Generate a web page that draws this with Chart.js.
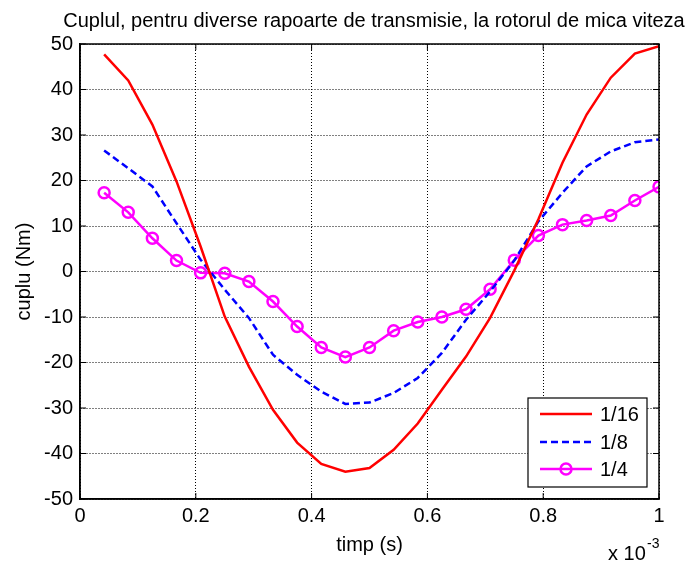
<!DOCTYPE html>
<html>
<head>
<meta charset="utf-8">
<script src="https://cdn.jsdelivr.net/npm/chart.js@4"></script>
<style>
  body { margin: 0; background: #fff; }
  #wrap { width: 692px; height: 564px; }
</style>
</head>
<body>
<div id="wrap"><canvas id="cuplu" width="692" height="564"></canvas></div>
<script>
// timp (x 10^-3 s)
const timp = [0.0417, 0.0833, 0.125, 0.1667, 0.2083, 0.25, 0.2917, 0.3333, 0.375, 0.4167, 0.4583, 0.5,
              0.5417, 0.5833, 0.625, 0.6667, 0.7083, 0.75, 0.7917, 0.8333, 0.875, 0.9167, 0.9583, 1.0];
const raport16 = [47.7, 42.0, 32.3, 19.8, 5.5, -9.9, -20.9, -30.4, -37.6, -42.3, -44.0, -43.2,
                  -39.2, -33.4, -26.0, -18.7, -10.2, 0.2, 11.5, 23.9, 34.5, 42.6, 47.9, 49.5];
const raport8 = [26.6, 22.7, 18.7, 10.6, 2.6, -4.0, -10.2, -18.3, -22.7, -26.4, -29.1, -28.8,
                 -26.7, -23.4, -17.9, -10.6, -4.4, 2.4, 11.0, 17.3, 23.1, 26.4, 28.4, 29.0];
const raport4 = [17.3, 13.0, 7.3, 2.4, -0.3, -0.4, -2.2, -6.6, -12.1, -16.7, -18.8, -16.7,
                 -13.0, -11.1, -10.0, -8.3, -3.9, 2.5, 7.9, 10.3, 11.2, 12.3, 15.6, 18.6];
const seriesNames = ['1/16', '1/8', '1/4'];

const FONT = 'Liberation Sans, Arial, sans-serif';

function pts(ys) {
  return ys.map((y, i) => ({ x: timp[i], y: y }));
}

const matlabBits = {
  id: 'matlabBits',
  afterDraw: (chart) => {
    const { ctx, chartArea: a, scales: { x, y } } = chart;
    ctx.save();
    // box
    ctx.strokeStyle = '#000';
    ctx.lineWidth = 1.5;
    ctx.strokeRect(a.left, a.top, a.right - a.left, a.bottom - a.top);
    // inner ticks
    ctx.lineWidth = 1;
    ctx.beginPath();
    y.ticks.forEach(t => {
      const py = y.getPixelForValue(t.value);
      ctx.moveTo(a.left, py); ctx.lineTo(a.left + 6, py);
      ctx.moveTo(a.right, py); ctx.lineTo(a.right - 6, py);
    });
    x.ticks.forEach(t => {
      const px = x.getPixelForValue(t.value);
      ctx.moveTo(px, a.bottom); ctx.lineTo(px, a.bottom - 6);
      ctx.moveTo(px, a.top); ctx.lineTo(px, a.top + 6);
    });
    ctx.stroke();

    // title
    ctx.fillStyle = '#000';
    ctx.font = '20px ' + FONT;
    ctx.textAlign = 'center';
    ctx.textBaseline = 'alphabetic';
    ctx.fillText('Cuplul, pentru diverse rapoarte de transmisie, la rotorul de mica viteza', 374, 27);

    // exponent
    ctx.textAlign = 'left';
    ctx.fillText('x 10', 608, 560);
    ctx.font = '14px ' + FONT;
    ctx.fillText('-3', 647, 548);

    // legend
    const lx = 528, ly = 398, lw = 119, lh = 89;
    ctx.fillStyle = '#fff';
    ctx.fillRect(lx, ly, lw, lh);
    ctx.strokeStyle = '#000';
    ctx.lineWidth = 1.2;
    ctx.strokeRect(lx, ly, lw, lh);
    const rows = [414, 442, 469];
    chart.data.datasets.forEach((ds, i) => {
      const ry = rows[i];
      ctx.strokeStyle = ds.borderColor;
      ctx.lineWidth = ds.borderWidth;
      ctx.setLineDash(ds.borderDash || []);
      ctx.beginPath();
      ctx.moveTo(540, ry); ctx.lineTo(592, ry);
      ctx.stroke();
      ctx.setLineDash([]);
      if (ds.pointRadius > 0) {
        ctx.beginPath();
        ctx.arc(566, ry, ds.pointRadius, 0, Math.PI * 2);
        ctx.stroke();
      }
      ctx.fillStyle = '#000';
      ctx.font = '20px ' + FONT;
      ctx.textBaseline = 'middle';
      ctx.fillText(ds.label, 600, ry + 1);
    });
    ctx.restore();
  }
};

new Chart(document.getElementById('cuplu'), {
  type: 'line',
  data: {
    datasets: [{
      label: seriesNames[0],
      data: pts(raport16),
      borderColor: '#ff0000',
      borderWidth: 2.5,
      pointRadius: 0,
      tension: 0
    }, {
      label: seriesNames[1],
      data: pts(raport8),
      borderColor: '#0000ff',
      borderWidth: 2.5,
      borderDash: [7, 4],
      pointRadius: 0,
      tension: 0
    }, {
      label: seriesNames[2],
      data: pts(raport4),
      borderColor: '#ff00ff',
      borderWidth: 2.5,
      pointRadius: 5.5,
      pointBorderWidth: 2.5,
      pointBorderColor: '#ff00ff',
      pointBackgroundColor: 'rgba(0,0,0,0)',
      tension: 0
    }]
  },
  plugins: [matlabBits],
  options: {
    responsive: false,
    animation: false,
    events: [],
    layout: {
      padding: { top: 44, right: 33, left: 0, bottom: 0 }
    },
    plugins: {
      legend: { display: false },
      tooltip: { enabled: false }
    },
    scales: {
      x: {
        type: 'linear',
        min: 0,
        max: 1,
        afterFit: (s) => { s.height = 65; },
        ticks: {
          stepSize: 0.2,
          color: '#000',
          padding: 5,
          maxRotation: 0,
          font: { family: FONT, size: 20 },
          callback: (v) => String(+v.toFixed(1))
        },
        grid: { color: '#000', lineWidth: 1, drawTicks: false },
        border: { color: '#000', width: 1.5, dash: [1, 2] },
        title: {
          display: true,
          text: 'timp (s)',
          color: '#000',
          padding: 7,
          font: { family: FONT, size: 20 }
        }
      },
      y: {
        min: -50,
        max: 50,
        afterFit: (s) => { s.width = 80; },
        ticks: {
          stepSize: 10,
          color: '#000',
          padding: 7,
          font: { family: FONT, size: 20 }
        },
        grid: { color: '#000', lineWidth: 1, drawTicks: false },
        border: { color: '#000', width: 1.5, dash: [1, 2] },
        title: {
          display: true,
          text: 'cuplu (Nm)',
          color: '#000',
          padding: 12,
          font: { family: FONT, size: 20 }
        }
      }
    }
  }
});
</script>
</body>
</html>
